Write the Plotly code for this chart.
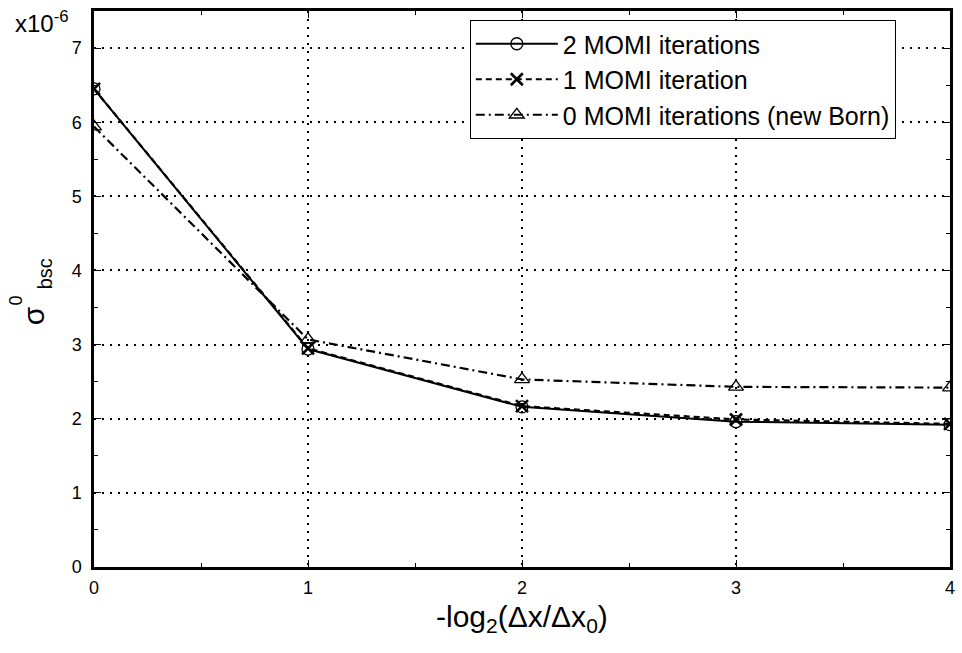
import plotly.graph_objects as go

x_vals = [0, 1, 2, 3, 4]
momi2 = [6.45, 2.94, 2.16, 1.96, 1.92]
momi1 = [6.45, 2.95, 2.17, 1.99, 1.93]
momi0 = [5.94, 3.07, 2.53, 2.43, 2.42]
names = ["2 MOMI iterations", "1 MOMI iteration", "0 MOMI iterations (new Born)"]

W, H = 962, 653
L, R, T, B = 94, 7, 11, 86
pw, ph = W - L - R, H - T - B

def px(xp):
    return (xp - L) / pw

def py(yp):
    return (H - B - yp) / ph

FONT = "Liberation Sans, Arial, sans-serif"

fig = go.Figure()
fig.add_trace(go.Scatter(x=x_vals, y=momi2, name=names[0], mode="lines+markers",
                         legendgroup="a",
                         line=dict(color="black", width=2, dash="solid"),
                         marker=dict(symbol="circle-open", size=12, color="black",
                                     line=dict(width=1.3, color="black"))))
fig.add_trace(go.Scatter(x=x_vals, y=momi1, name=names[1], mode="lines+markers",
                         legendgroup="b",
                         line=dict(color="black", width=2.2, dash="6px,4px"),
                         marker=dict(symbol="x-thin-open", size=12, color="black",
                                     line=dict(width=2.6, color="black"))))
fig.add_trace(go.Scatter(x=x_vals, y=momi0, name=names[2], mode="lines+markers",
                         legendgroup="c",
                         line=dict(color="black", width=2.2, dash="9px,4px,2px,4px"),
                         marker=dict(symbol="triangle-up-open", size=13, color="black",
                                     line=dict(width=1.3, color="black"))))

axis_common = dict(
    showline=True, linecolor="black", linewidth=2.5, mirror="allticks",
    ticks="inside", ticklen=7, tickwidth=1, tickcolor="black",
    showgrid=True, gridcolor="black", griddash="2px,6px", gridwidth=1.5,
    zeroline=False,
    tickfont=dict(family=FONT, size=18, color="black"),
    minor=dict(ticks="inside", ticklen=4, tickwidth=1, tickcolor="black",
               showgrid=False),
)

fig.update_xaxes(range=[0, 4], dtick=1, tick0=0, **axis_common)
fig.update_xaxes(minor_dtick=0.5, ticklabelstandoff=3)
fig.update_yaxes(range=[0, 7.5], dtick=1, tick0=0, **axis_common)
fig.update_yaxes(minor_dtick=0.5, ticklabelstandoff=6)

annotations = [
    dict(text="-log<sub>2</sub>(Δx/Δx<sub>0</sub>)", x=px(525), y=py(598),
         xanchor="center", yanchor="top",
         font=dict(family=FONT, size=30, color="black")),
    dict(text="x10<sup>-6</sup>", x=px(13), y=py(22), xanchor="left", yanchor="middle",
         font=dict(family=FONT, size=24, color="black")),
    dict(text="σ", x=px(34), y=py(316), xanchor="center", yanchor="middle",
         textangle=-90, font=dict(family=FONT, size=30, color="black")),
    dict(text="0", x=px(16), y=py(300), xanchor="center", yanchor="middle",
         textangle=-90, font=dict(family=FONT, size=18, color="black")),
    dict(text="bsc", x=px(45), y=py(274), xanchor="center", yanchor="middle",
         textangle=-90, font=dict(family=FONT, size=20, color="black")),
]
for a in annotations:
    a.update(xref="paper", yref="paper", showarrow=False)

fig.update_layout(
    width=W, height=H,
    margin=dict(l=L, r=R, t=T, b=B),
    paper_bgcolor="white", plot_bgcolor="white",
    font=dict(family=FONT, color="black"),
    annotations=annotations,
    showlegend=True,
    legend=dict(x=px(472), y=py(20), xanchor="left", yanchor="top",
                bgcolor="white", bordercolor="black", borderwidth=1,
                font=dict(family=FONT, size=25, color="black"),
                itemwidth=82, traceorder="grouped", tracegroupgap=0,
                itemclick=False),
)

fig.write_html("out.html")
